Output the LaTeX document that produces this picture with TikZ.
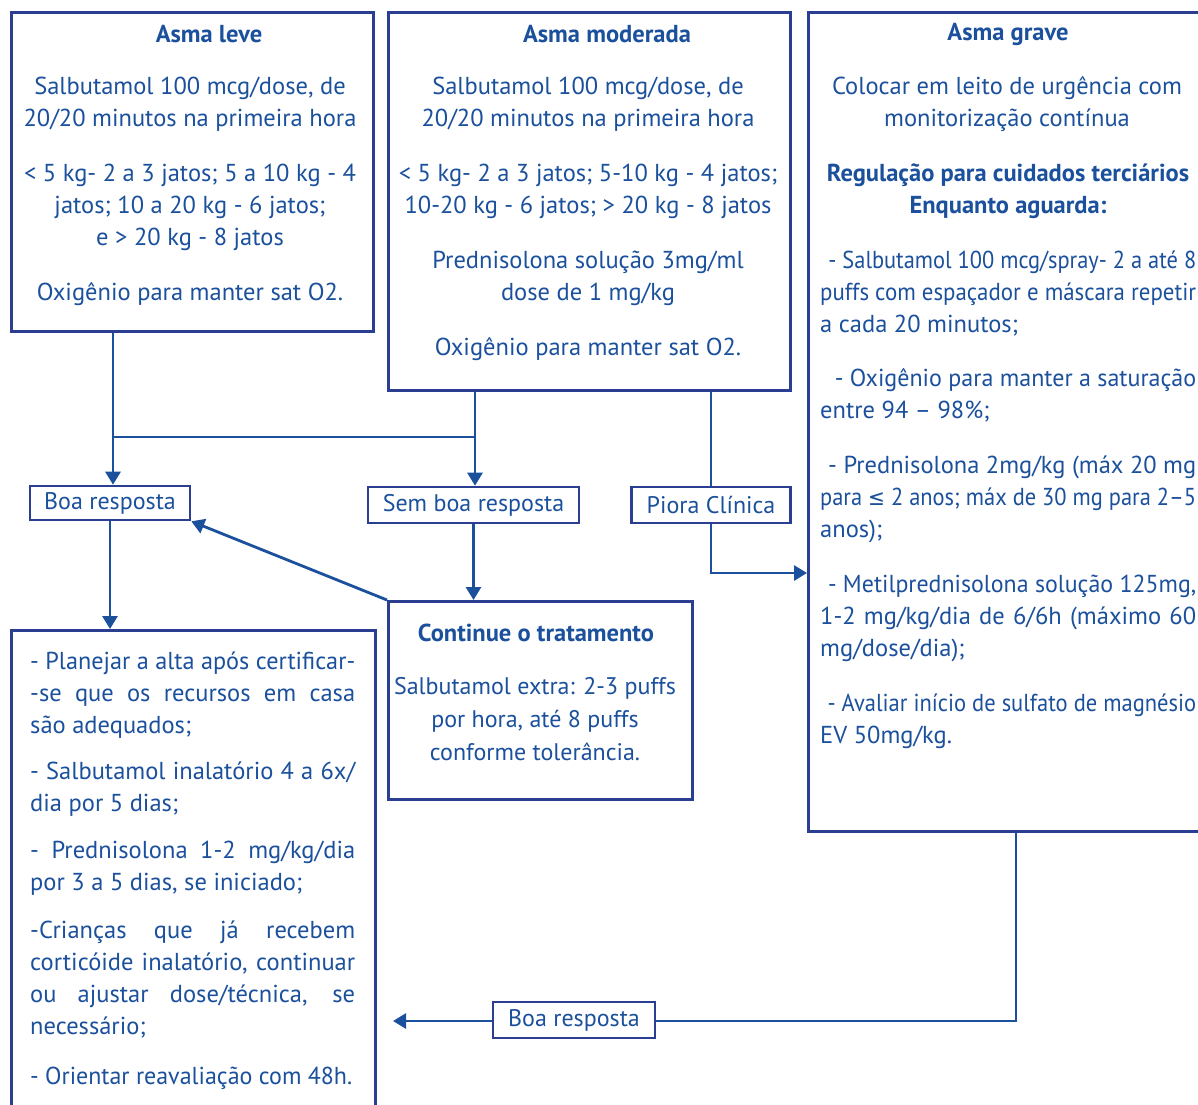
\documentclass[tikz,border=0pt]{standalone}
\usepackage{fontspec}
\usepackage{graphicx}
\setmainfont{PT Sans}
\newfontfamily\symfont{DejaVu Sans}
\usetikzlibrary{arrows.meta}
\definecolor{tb}{RGB}{27,80,156}
\definecolor{bb}{RGB}{42,62,146}
\newcommand\jl[2]{\sbox0{#2}\ifdim\wd0>#1\relax\resizebox{#1}{\height}{#2}\else\makebox[#1][s]{#2}\fi}
\newcommand\fitl[2]{\sbox0{#2}\ifdim\wd0>#1\relax\resizebox{#1}{\height}{#2}\else\usebox0\fi}
\begin{document}
\begin{tikzpicture}[x=1pt,y=-1pt,
  box/.style={draw=bb,line width=2.6pt,inner sep=0pt,anchor=north west},
  lbl/.style={draw=bb,line width=2.6pt,inner sep=0pt,text=tb,fill=white,font=\fontsize{24}{28}\selectfont},
  txt/.style={text=tb,font=\fontsize{24.5}{32}\selectfont,align=center,inner sep=0pt},
  txl/.style={text=tb,font=\fontsize{24.5}{32}\selectfont,align=left,inner sep=0pt,anchor=west},
  hd/.style={txt,font=\fontsize{24.5}{32}\selectfont\bfseries},
  conn/.style={draw=tb,line width=2.8pt},
  arr/.style={conn,-{Triangle[width=15pt,length=13pt]}}]
\useasboundingbox[fill=white] (0,0) rectangle (1198,1104);
% boxes
\node[box,minimum width=362,minimum height=319] (leve) at (10,11) {};
\node[box,minimum width=402,minimum height=378] (mod) at (387,11) {};
\node[box,minimum width=410,minimum height=819] (grave) at (807,11) {};
\node[box,minimum width=364,minimum height=490] (alta) at (10,629) {};
\node[box,minimum width=304,minimum height=198] (cont) at (387,600) {};
% labels
\node[lbl,minimum width=160,minimum height=34] (boa1) at (110,503) {Boa resposta};
\node[lbl,minimum width=211,minimum height=36] (sem) at (473.5,505) {Sem boa resposta};
\node[lbl,minimum width=159,minimum height=36] (piora) at (711,505) {Piora Clínica};
\node[lbl,minimum width=162,minimum height=36] (boa2) at (574,1020) {Boa resposta};
% Asma leve
\node[hd] (leveT) at (209,34) {Asma leve};
\node[txt] (leve1) at (190,104) {\strut Salbutamol 100 mcg/dose, de\\20/20 minutos na primeira hora\strut};
\node[txt] (leve2) at (190,207) {\strut < 5 kg- 2 a 3 jatos; 5 a 10 kg - 4\\jatos; 10 a 20 kg - 6 jatos;\\e > 20 kg - 8 jatos\strut};
\node[txt] (leve3) at (190,294) {\strut Oxigênio para manter sat O2.\strut};
% Asma moderada
\node[hd] (modT) at (607,34) {Asma moderada};
\node[txt] (mod1) at (588,104) {\strut Salbutamol 100 mcg/dose, de\\20/20 minutos na primeira hora\strut};
\node[txt] (mod2) at (588,191) {\strut < 5 kg- 2 a 3 jatos; 5-10 kg - 4 jatos;\\10-20 kg - 6 jatos; > 20 kg - 8 jatos\strut};
\node[txt] (mod3) at (588,278) {\strut Prednisolona solução 3mg/ml\\dose de 1 mg/kg\strut};
\node[txt] (mod4) at (588,349) {\strut Oxigênio para manter sat O2.\strut};
% Asma grave
\node[hd] (graveT) at (1008,34) {Asma grave};
\node[txt] (grave1) at (1007,104) {\strut Colocar em leito de urgência com\\monitorização contínua\strut};
\node[hd] (grave2) at (1008,191) {\strut Regulação para cuidados terciários\\Enquanto aguarda:\strut};
\node[txl] (grave3) at (820,294) {\strut\jl{376pt}{\hspace*{9pt}- Salbutamol 100 mcg/spray- 2 a até 8}\\\jl{376pt}{puffs com espaçador e máscara repetir}\\a cada 20 minutos;\strut};
\node[txl] (grave4) at (820,396) {\strut\jl{376pt}{\hspace*{15pt}- Oxigênio para manter a saturação}\\entre 94 – 98\%;\strut};
\node[txl] (grave5) at (820,499) {\strut\jl{376pt}{\hspace*{8pt}- Prednisolona 2mg/kg (máx 20 mg}\\\jl{376pt}{para {\symfont\fontsize{22}{32}\selectfont ≤} 2 anos; máx de 30 mg para 2–5}\\anos);\strut};
\node[txl] (grave6) at (820,618) {\strut\jl{376pt}{\hspace*{8pt}- Metilprednisolona solução 125mg,}\\\jl{376pt}{1-2 mg/kg/dia de 6/6h (máximo 60}\\mg/dose/dia);\strut};
\node[txl] (grave7) at (820,721) {\strut\jl{376pt}{\hspace*{8pt}- Avaliar início de sulfato de magnésio}\\EV 50mg/kg.\strut};
% alta box text
\node[txl] (alta1) at (30,695) {\strut\jl{325pt}{- Planejar a alta após certificar-}\\\jl{325pt}{-se que os recursos em casa}\\são adequados;\strut};
\node[txl] (alta2) at (30,789) {\strut\jl{325pt}{- Salbutamol inalatório 4 a 6x/}\\dia por 5 dias;\strut};
\node[txl] (alta3) at (30,868) {\strut\jl{325pt}{- Prednisolona 1-2 mg/kg/dia}\\por 3 a 5 dias, se iniciado;\strut};
\node[txl] (alta4) at (30,980) {\strut\jl{325pt}{-Crianças que já recebem}\\\jl{325pt}{corticóide inalatório, continuar}\\\jl{325pt}{ou ajustar dose/técnica, se}\\necessário;\strut};
\node[txl] (alta5) at (30,1078) {\strut\fitl{322pt}{- Orientar reavaliação com 48h.}\strut};
% continue
\node[hd] (contT) at (536,633) {Continue o tratamento};
\node[txt,font=\fontsize{24}{33}\selectfont] (cont1) at (535,721) {\strut Salbutamol extra: 2-3 puffs\\por hora, até 8 puffs\\conforme tolerância.\strut};
% connectors
\coordinate (j1) at (113,437);
\coordinate (j2) at (475,437);
\coordinate (pc) at (711,573);
\coordinate (gc) at (1016,1021);
\coordinate (tip) at (393,1021);
\draw[conn] (leve.south -| j1) -- (j1) -- (j2);
\draw[conn] (mod.south -| j2) -- (j2);
\draw[arr] (j1) -- (boa1.north -| j1);
\draw[arr] (j2) -- (sem.north -| j2);
\draw[conn] (mod.south -| piora.north) -- (piora.north);
\draw[arr] (piora.south) -- (pc) -- (grave.west |- pc);
\draw[arr] (boa1.south) -- (alta.north -| boa1.south);
\draw[arr] (sem.south) -- (cont.north -| sem.south);
\draw[arr] (cont.north west) -- (boa1.south east);
\draw[conn] (grave.south -| gc) -- (gc) -- (boa2.east |- gc);
\draw[arr] (boa2.west |- tip) -- (tip);
\end{tikzpicture}
\end{document}
